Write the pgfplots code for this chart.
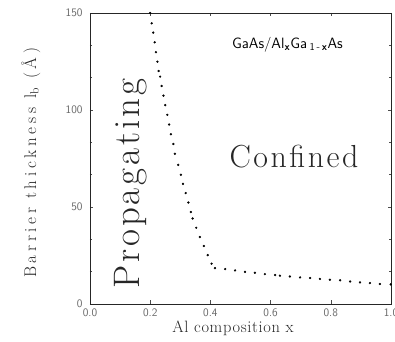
\documentclass[border=0pt]{standalone}
\usepackage{fontspec}
\usepackage{pgfplots}
\pgfplotsset{compat=1.18}
\newfontfamily\lblfont[LetterSpace=22]{Latin Modern Roman}
\newfontfamily\xlblfont[LetterSpace=4]{Latin Modern Roman}
\newfontfamily\bigfont[LetterSpace=8]{Latin Modern Roman}
\pgfplotstableread{
x y
0.200 150.0
0.205 144.7
0.210 139.9
0.215 134.9
0.219 129.8
0.224 124.9
0.228 120.1
0.233 117.2
0.238 112.4
0.244 107.4
0.250 102.5
0.257 97.5
0.263 92.5
0.269 87.5
0.277 82.5
0.282 77.4
0.293 71.7
0.302 66.6
0.309 61.9
0.318 57.2
0.327 52.3
0.335 47.4
0.341 44.1
0.353 39.3
0.365 34.5
0.378 29.9
0.391 25.2
0.404 20.8
0.415 18.5
0.449 18.0
0.482 17.3
0.515 16.6
0.548 16.1
0.581 15.4
0.615 14.9
0.631 14.6
0.664 14.2
0.698 13.7
0.731 13.4
0.764 12.9
0.797 12.5
0.831 12.2
0.864 11.6
0.897 11.1
0.930 10.8
0.963 10.3
0.999 10.1
}\boundary
\begin{document}
\begin{tikzpicture}
\begin{axis}[
  scale only axis, width=301bp, height=291bp,
  xmin=0, xmax=1, ymin=0, ymax=150,
  xtick={0,0.2,0.4,0.6,0.8,1.0}, ytick={0,50,100,150},
  minor y tick num=2,
  tick align=inside,
  major tick length=3.5bp, minor tick length=2.5bp,
  axis line style={black!85, line width=0.75pt},
  every tick/.style={black!70, line width=0.5pt},
  /pgf/number format/assume math mode=true,
  xticklabel style={font=\sffamily\fontsize{11.5}{12}\selectfont, text=black!60,
     /pgf/number format/.cd, fixed, fixed zerofill, precision=1},
  yticklabel style={font=\sffamily\fontsize{11.5}{12}\selectfont, text=black!60, xshift=-4bp},
  xticklabel shift=1bp,
  xlabel={\xlblfont\fontsize{16.5}{18}\selectfont Al composition x},
  xlabel style={at={(axis description cs:0.475,-0.082)}, anchor=center, text=black!85},
  ylabel={\lblfont\fontsize{17}{18}\selectfont Barrier thickness l\textsubscript{b} (Å)},
  ylabel style={at={(axis description cs:-0.197,0.485)}, anchor=center, rotate=0, text=black!85},
  clip=false,
]
\addplot[only marks, mark=*, mark size=0.95pt, black] table[x=x, y=y] {\boundary};
\node[rotate=90, anchor=center, font=\bigfont\fontsize{37}{40}\selectfont, text=black!85] at (axis cs:0.136,62) {Propagating};
\node[anchor=base, font=\bigfont\fontsize{32}{36}\selectfont, text=black!85] at (axis cs:0.678,70.2) {Confined};
\node[anchor=base, font=\sffamily\fontsize{15}{17}\selectfont] at (axis cs:0.656,131.8)
  {GaAs/Al\textsubscript{\textbf{x}}Ga\,\textsubscript{1\,-\,\textbf{x}}As};
\coordinate (SW) at (rel axis cs:0,0);
\coordinate (NE) at (rel axis cs:1,1);
\end{axis}
\pgfresetboundingbox
\path[use as bounding box] ([xshift=-90bp,yshift=-38bp]SW) rectangle ([xshift=4bp,yshift=13bp]NE);
\end{tikzpicture}
\end{document}
